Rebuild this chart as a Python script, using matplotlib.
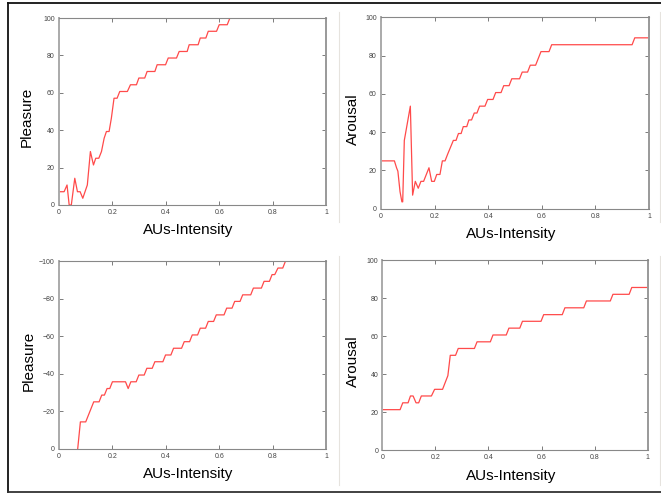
import matplotlib
matplotlib.use('Agg')
import matplotlib.pyplot as plt
from matplotlib.lines import Line2D

plt.rcParams['font.family'] = ['Liberation Sans', 'DejaVu Sans']

# ── data ───────────────────────────────────────────────────────────
pleasure_pos_x = [0, 0.019, 0.03, 0.038, 0.046, 0.059, 0.069, 0.079, 0.089, 0.106,
                  0.1175, 0.129, 0.1375, 0.149, 0.159, 0.169, 0.1775, 0.1875, 0.196,
                  0.206, 0.2175, 0.2275, 0.256, 0.2675, 0.29, 0.299, 0.321, 0.33,
                  0.359, 0.3675, 0.399, 0.409, 0.44, 0.45, 0.48, 0.4875, 0.521,
                  0.529, 0.55, 0.559, 0.59, 0.6, 0.63, 0.64]
pleasure_pos_y = [7.1, 7.1, 10.7, 0, 0, 14.3, 7.1, 7.1, 3.6, 10.7,
                  28.6, 21.4, 25.0, 25.0, 28.6, 35.7, 39.3, 39.3, 46.4,
                  57.1, 57.1, 60.7, 60.7, 64.3, 64.3, 67.9, 67.9, 71.4,
                  71.4, 75.0, 75.0, 78.6, 78.6, 82.1, 82.1, 85.7, 85.7,
                  89.3, 89.3, 92.9, 92.9, 96.4, 96.4, 100]

arousal_1_x = [0, 0.05, 0.058, 0.063, 0.071, 0.078, 0.081, 0.087, 0.1095, 0.118,
               0.128, 0.139, 0.149, 0.159, 0.179, 0.189, 0.199, 0.208, 0.22, 0.229,
               0.239, 0.249, 0.27, 0.28, 0.289, 0.299, 0.307, 0.32, 0.328, 0.338,
               0.348, 0.358, 0.368, 0.388, 0.398, 0.418, 0.428, 0.448, 0.458,
               0.478, 0.488, 0.517, 0.527, 0.547, 0.557, 0.577, 0.597, 0.627,
               0.637, 0.937, 0.947, 1.0]
arousal_1_y = [25.0, 25.0, 21.4, 19.6, 8.9, 3.6, 3.6, 35.7, 53.6, 7.1,
               14.3, 10.7, 14.3, 14.3, 21.4, 14.3, 14.3, 17.9, 17.9, 25.0,
               25.0, 28.6, 35.7, 35.7, 39.3, 39.3, 42.9, 42.9, 46.4, 46.4,
               50.0, 50.0, 53.6, 53.6, 57.1, 57.1, 60.7, 60.7, 64.3,
               64.3, 67.9, 67.9, 71.4, 71.4, 75.0, 75.0, 82.1, 82.1,
               85.7, 85.7, 89.3, 89.3]

pleasure_neg_x = [0.07, 0.08, 0.1, 0.13, 0.15, 0.16, 0.17, 0.18, 0.19, 0.2,
                  0.249, 0.259, 0.269, 0.289, 0.299, 0.319, 0.329, 0.349, 0.359,
                  0.389, 0.399, 0.419, 0.429, 0.459, 0.469, 0.489, 0.499, 0.519,
                  0.529, 0.549, 0.559, 0.579, 0.589, 0.618, 0.628, 0.648, 0.658,
                  0.678, 0.688, 0.718, 0.728, 0.758, 0.768, 0.788, 0.798, 0.808,
                  0.82, 0.838, 0.848]
pleasure_neg_y = [0, -14.3, -14.3, -25.0, -25.0, -28.6, -28.6, -32.1, -32.1, -35.7,
                  -35.7, -32.1, -35.7, -35.7, -39.3, -39.3, -42.9, -42.9, -46.4,
                  -46.4, -50.0, -50.0, -53.6, -53.6, -57.1, -57.1, -60.7, -60.7,
                  -64.3, -64.3, -67.9, -67.9, -71.4, -71.4, -75.0, -75.0, -78.6,
                  -78.6, -82.1, -82.1, -85.7, -85.7, -89.3, -89.3, -92.9, -92.9,
                  -96.4, -96.4, -100]

arousal_2_x = [0, 0.067, 0.077, 0.097, 0.106, 0.116, 0.127, 0.137, 0.147, 0.185,
               0.197, 0.227, 0.247, 0.256, 0.276, 0.286, 0.347, 0.357, 0.407,
               0.417, 0.467, 0.477, 0.518, 0.528, 0.598, 0.608, 0.678, 0.688,
               0.759, 0.769, 0.859, 0.869, 0.93, 0.94, 1.0]
arousal_2_y = [21.4, 21.4, 25.0, 25.0, 28.6, 28.6, 25.0, 25.0, 28.6, 28.6,
               32.1, 32.1, 39.3, 50.0, 50.0, 53.6, 53.6, 57.1, 57.1,
               60.7, 60.7, 64.3, 64.3, 67.9, 67.9, 71.4, 71.4, 75.0,
               75.0, 78.6, 78.6, 82.1, 82.1, 85.7, 85.7]

x_ticks = [0, 0.2, 0.4, 0.6, 0.8, 1]
x_tick_labels = ['0', '0.2', '0.4', '0.6', '0.8', '1']

fig = plt.figure(figsize=(6.61, 4.96), dpi=100)

# axes rectangles in figure fraction (from pixel positions), ylabel x offset
panels = [
    ([0.0893, 0.5867, 0.4039, 0.3770], pleasure_pos_x, pleasure_pos_y, 'Pleasure', False, -0.120),
    ([0.5764, 0.5792, 0.4054, 0.3858], arousal_1_x, arousal_1_y, 'Arousal', False, -0.105),
    ([0.0893, 0.0954, 0.4039, 0.3778], pleasure_neg_x, pleasure_neg_y, 'Pleasure', True, -0.113),
    ([0.5784, 0.0921, 0.4015, 0.3831], arousal_2_x, arousal_2_y, 'Arousal', False, -0.110),
]

for rect, xs, ys, ylab, neg, yl_x in panels:
    ax = fig.add_axes(rect)
    ax.plot(xs, ys, color='#ff4a4a', lw=0.9)
    ax.set_xlim(0, 1)
    if neg:
        ax.set_ylim(0, -100)
        ax.set_yticks([0, -20, -40, -60, -80, -100])
    else:
        ax.set_ylim(0, 100)
        ax.set_yticks([0, 20, 40, 60, 80, 100])
    ax.set_xticks(x_ticks)
    ax.set_xticklabels(x_tick_labels)
    ax.tick_params(direction='in', length=3, width=0.6, color='#666666',
                   labelsize=5, labelcolor='#444444', top=True, right=True, pad=3)
    for side, sp in ax.spines.items():
        sp.set_color('#888888')
        sp.set_linewidth(0.8)
    ax.spines['left'].set_linewidth(1.4)
    ax.spines['left'].set_color('#aaaaaa')
    ax.spines['right'].set_linewidth(1.4)
    ax.spines['right'].set_color('#999999')
    ax.set_xlabel('AUs-Intensity', fontsize=11, va='center')
    ax.xaxis.set_label_coords(0.485, -0.133)
    ax.set_ylabel(ylab, fontsize=11, va='center')
    ax.yaxis.set_label_coords(yl_x, 0.47)

# outer frame and faint separators
W, H = 661.0, 496.0
def line(x0, y0, x1, y1, **kw):
    fig.add_artist(Line2D([x0 / W, x1 / W], [1 - y0 / H, 1 - y1 / H], **kw))

line(8, 3, 661, 3, color='#111111', lw=1.3)
line(8, 3, 8, 492, color='#111111', lw=1.3)
line(8, 492, 661, 492, color='#333333', lw=1.3)
for xs_ in (338.5, 659.5):
    line(xs_, 12, xs_, 222, color='#e6e3de', lw=0.8)
    line(xs_, 256, xs_, 485, color='#e6e3de', lw=0.8)

fig.savefig('out.png', dpi=100)
